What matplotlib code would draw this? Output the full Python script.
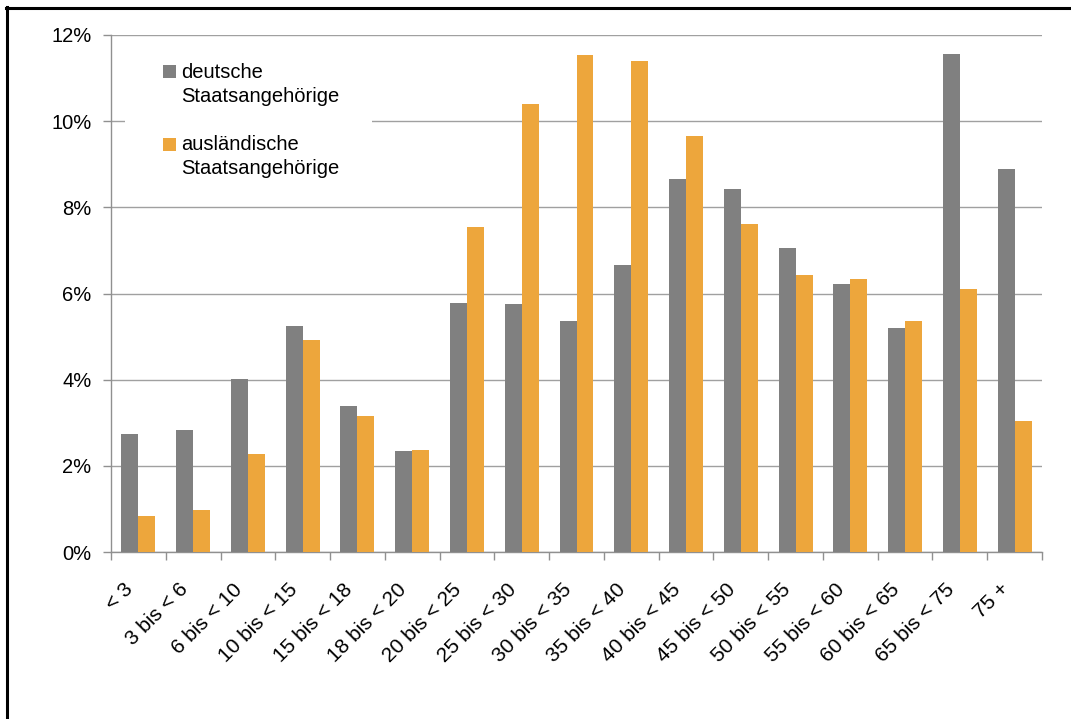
import matplotlib
matplotlib.use("Agg")
import matplotlib.pyplot as plt
from matplotlib.patches import Rectangle
from matplotlib.lines import Line2D
from matplotlib.transforms import ScaledTranslation
import numpy as np

plt.rcParams['font.family'] = ['Liberation Sans', 'DejaVu Sans']

categories = ["< 3", "3 bis < 6", "6 bis < 10", "10 bis < 15", "15 bis < 18",
              "18 bis < 20", "20 bis < 25", "25 bis < 30", "30 bis < 35",
              "35 bis < 40", "40 bis < 45", "45 bis < 50", "50 bis < 55",
              "55 bis < 60", "60 bis < 65", "65 bis < 75", "75 +"]
deutsche = [2.74, 2.83, 4.01, 5.24, 3.39, 2.34, 5.78, 5.75, 5.36, 6.66,
            8.65, 8.42, 7.05, 6.22, 5.20, 11.56, 8.89]
auslaendische = [0.84, 0.97, 2.27, 4.92, 3.16, 2.37, 7.54, 10.39, 11.53, 11.39,
                 9.65, 7.61, 6.43, 6.33, 5.36, 6.10, 3.04]
yticks = [0, 2, 4, 6, 8, 10, 12]
ytick_labels = ["0%", "2%", "4%", "6%", "8%", "10%", "12%"]
legend_labels = ["deutsche\nStaatsangehörige", "ausländische\nStaatsangehörige"]

GRAY = "#808080"
ORANGE = "#EDA63C"
W, H = 1071, 719

fig = plt.figure(figsize=(W / 100, H / 100), dpi=100)
ax = fig.add_axes([111 / W, 1 - 552 / H, (1042 - 111) / W, (552 - 35) / H])

x = np.arange(len(categories))
bw = 0.31
ax.bar(x - bw / 2, deutsche, width=bw, color=GRAY, zorder=3)
ax.bar(x + bw / 2, auslaendische, width=bw, color=ORANGE, zorder=3)

ax.set_xlim(-0.5, len(categories) - 0.5)
ax.set_ylim(0, 12)
ax.set_yticks(yticks)
ax.set_yticklabels(ytick_labels, fontsize=14.5)
ax.yaxis.grid(True, color="#A0A0A0", linewidth=1, zorder=0)
ax.set_axisbelow(True)

# x ticks: marks at boundaries, labels at centers
ax.set_xticks(np.arange(len(categories) + 1) - 0.5)
ax.set_xticklabels([])
ax.set_xticks(x, minor=True)
ax.set_xticklabels(categories, minor=True, fontsize=15, rotation=45,
                   ha="right", va="top", rotation_mode="anchor")
ax.tick_params(axis="x", which="minor", length=0, pad=12)
ax.tick_params(axis="x", which="major", length=6, color="#909090", width=1)
ax.tick_params(axis="y", length=6, color="#909090", width=1, pad=8)
off = ScaledTranslation(-0.15, -0.11, fig.dpi_scale_trans)
for lab in ax.get_xticklabels(minor=True):
    lab.set_transform(lab.get_transform() + off)

for s in ["top", "right"]:
    ax.spines[s].set_visible(False)
for s in ["left", "bottom"]:
    ax.spines[s].set_color("#909090")
    ax.spines[s].set_linewidth(1)

# legend (manual) in figure pixel coordinates
def fx(px):
    return px / W

def fy(py):
    return 1 - py / H

fig.patches.append(Rectangle((fx(125), fy(190)), fx(372) - fx(125), fy(45) - fy(190),
                             transform=fig.transFigure, facecolor="white",
                             edgecolor="none", zorder=5))
for i, (lab, col) in enumerate(zip(legend_labels, [GRAY, ORANGE])):
    top = 65 + i * 72.5
    fig.patches.append(Rectangle((fx(163), fy(top + 13)), fx(176) - fx(163), fy(top) - fy(top + 13),
                                 transform=fig.transFigure, facecolor=col,
                                 edgecolor="none", zorder=6))
    fig.text(fx(181), fy(top - 2), lab, fontsize=14.5, ha="left", va="top",
             linespacing=1.3, zorder=6)

# border lines (top and left)
fig.lines.append(Line2D([fx(6), fx(1071)], [fy(7.5), fy(7.5)], transform=fig.transFigure,
                        color="black", linewidth=2.2))
fig.lines.append(Line2D([fx(7), fx(7)], [fy(6.5), fy(719)], transform=fig.transFigure,
                        color="black", linewidth=2.2))

fig.savefig("out.png", dpi=100)
